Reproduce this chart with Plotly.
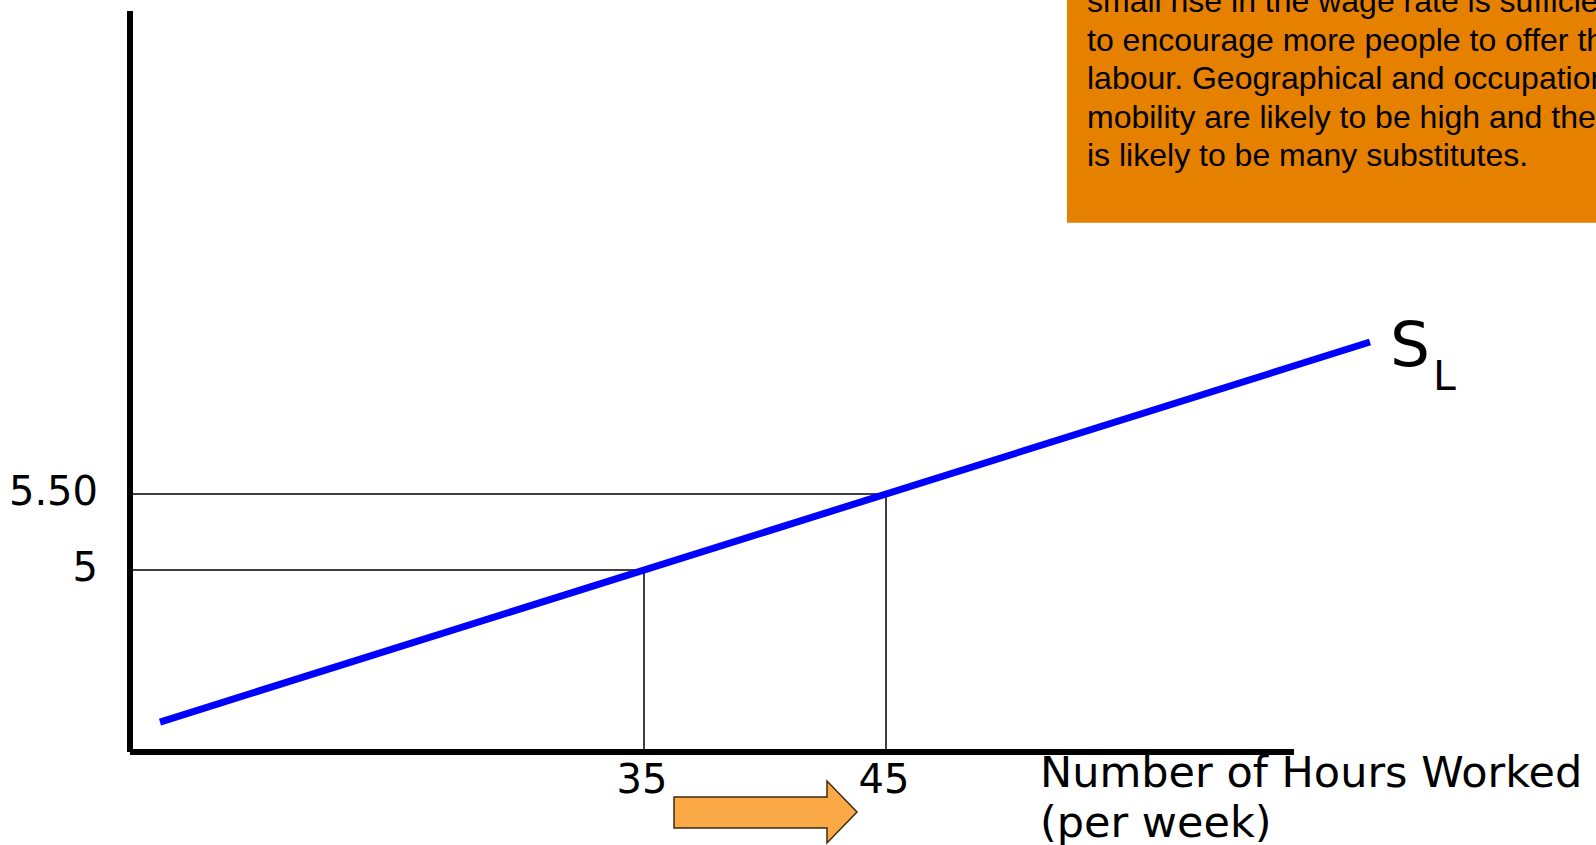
import plotly.graph_objects as go

# Labour supply schedule: hours offered at each wage rate
hours = [15, 65]
wage = [4.0, 6.5]

# Marked points on the supply curve
marked_hours = [35, 45]
marked_wage = [5, 5.5]
hour_labels = ["35", "45"]
wage_labels = ["5", "5.50"]

curve_label = "S"
curve_sub = "L"
x_title_lines = ["Number of Hours Worked", "(per week)"]
note_lines = [
    "small rise in the wage rate is sufficient",
    "to encourage more people to offer their",
    "labour. Geographical and occupational",
    "mobility are likely to be high and there",
    "is likely to be many substitutes.",
]

W, H = 1596, 845
ML, MB = 130, 93
PW, PH = W - ML, H - MB

X_RANGE = [13.76, 74.34]
Y_RANGE = [3.803, 8.75]
x0, y0 = X_RANGE[0], Y_RANGE[0]


def px(x):
    """pixel column -> paper fraction"""
    return (x - ML) / PW


def py(y):
    """pixel row -> paper fraction"""
    return (PH - y) / PH


fig = go.Figure()

# guide lines from each axis to the marked points
for h, w in zip(marked_hours, marked_wage):
    fig.add_trace(go.Scatter(x=[x0, h, h], y=[w, w, y0], mode="lines",
                             line=dict(color="black", width=1.5),
                             hoverinfo="skip", showlegend=False))

# supply curve
fig.add_trace(go.Scatter(x=hours, y=wage, mode="lines",
                         line=dict(color="#0000FF", width=7),
                         hoverinfo="skip", showlegend=False))

shapes = [
    # y axis
    dict(type="line", xref="paper", yref="paper", x0=0, x1=0, y0=0, y1=py(11),
         line=dict(color="black", width=6)),
    # x axis
    dict(type="line", xref="paper", yref="paper", x0=0, x1=px(1294), y0=0, y1=0,
         line=dict(color="black", width=6)),
    # note box
    dict(type="rect", xref="paper", yref="paper", x0=px(1067), x1=px(1620),
         y0=py(222.7), y1=py(-20), fillcolor="#E68100", line=dict(width=0),
         layer="below"),
]

# orange arrow pointing right
arrow = [(674, 797), (827, 797), (827, 781), (857, 812), (827, 843), (827, 828), (674, 828)]
path = "M " + " L ".join(f"{px(a):.5f},{py(b):.5f}" for a, b in arrow) + " Z"
shapes.append(dict(type="path", xref="paper", yref="paper", path=path,
                   fillcolor="#FBA846", line=dict(color="#3a2a10", width=1.5)))

annotations = []
# curve label S with subscript L
annotations.append(dict(text=curve_label, xref="paper", yref="paper",
                        x=px(1410), y=py(344), xanchor="center", yanchor="middle",
                        showarrow=False, font=dict(family="DejaVu Sans", size=63, color="black")))
annotations.append(dict(text=curve_sub, xref="paper", yref="paper",
                        x=px(1444), y=py(376), xanchor="center", yanchor="middle",
                        showarrow=False, font=dict(family="DejaVu Sans", size=41, color="black")))

# x-axis title, two lines
for line, mid in zip(x_title_lines, [772, 822]):
    annotations.append(dict(text=line, xref="paper", yref="paper",
                            x=px(1038), y=py(mid), xanchor="left", yanchor="middle",
                            showarrow=False, font=dict(family="DejaVu Sans", size=43, color="black")))

# note text
for i, line in enumerate(note_lines):
    base = 12.1 + 38.6 * i
    annotations.append(dict(text=line, xref="paper", yref="paper",
                            x=px(1085), y=py(base - 11), xanchor="left", yanchor="middle",
                            showarrow=False, font=dict(family="Liberation Sans", size=32, color="black")))

fig.update_layout(
    width=W, height=H,
    margin=dict(l=ML, r=0, t=0, b=MB, pad=0),
    paper_bgcolor="white", plot_bgcolor="white",
    shapes=shapes, annotations=annotations,
    xaxis=dict(range=X_RANGE, tickvals=marked_hours, ticktext=hour_labels,
               showgrid=False, zeroline=False, showline=False, ticks="",
               ticklabelstandoff=0, ticklabelshift=-2,
               tickfont=dict(family="DejaVu Sans", size=40, color="black")),
    yaxis=dict(range=Y_RANGE, tickvals=marked_wage, ticktext=wage_labels,
               showgrid=False, zeroline=False, showline=False, ticks="",
               ticklabelstandoff=31, ticklabelshift=-3,
               tickfont=dict(family="DejaVu Sans", size=40, color="black")),
)

fig.write_html("out.html")
